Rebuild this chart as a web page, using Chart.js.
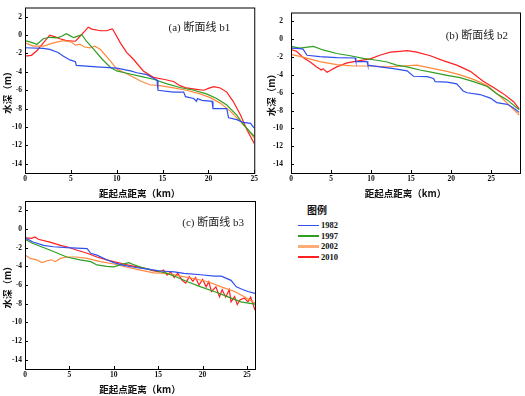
<!DOCTYPE html>
<html>
<head>
<meta charset="utf-8">
<script src="https://cdn.jsdelivr.net/npm/chart.js@4.4.1/dist/chart.umd.min.js"></script>
<style>
body{margin:0;background:#fff;width:525px;height:396px;position:relative;overflow:hidden}
canvas{position:absolute}
#legend{position:absolute;left:298px;top:202px;font-family:"Liberation Serif",serif;font-size:8.5px;font-weight:bold;color:#111}
#legend .ttl{font-family:"Noto Sans CJK SC",sans-serif;font-size:10px;margin-left:9px;margin-bottom:5px;height:13px}
#legend .row{height:10.6px;display:flex;align-items:center}
#legend .ln{display:inline-block;width:21px;margin-right:2px}
</style>
</head>
<body>
<canvas id="chartA" width="260" height="200" style="left:0;top:0"></canvas>
<canvas id="chartB" width="265" height="200" style="left:260px;top:0"></canvas>
<canvas id="chartC" width="260" height="206" style="left:0;top:190px"></canvas>
<div id="legend"></div>
<script>
// ===========================
// DATA
// ===========================

const years = ["1982","1997","2002","2010"];
const colors = ["#3050ee","#2f9e22","#ff8a3d","#ff1f1f"];
const yTicks = [-14,-12,-10,-8,-6,-4,-2,0,2];
const xTicks = [0,5,10,15,20,25];

// (a) 断面线 b1
const b1X1982 = [0,2,2.7,3.6,4.2,4.9,5.5,5.6,7.8,10,11.5,12.2,13.3,14,14.4,14.5,16.2,17.3,17.5,18.4,18.7,18.8,19.3,20.4,20.5,22,22.2,23.1,23.8,24.6,24.9,25];
const b1Y1982 = [-1.38,-1.45,-1.56,-1.9,-2.3,-2.7,-2.9,-3.3,-3.45,-3.6,-3.9,-4.1,-4.3,-4.7,-4.9,-6.0,-6.2,-6.2,-6.7,-6.9,-7.2,-6.9,-7.1,-7.2,-8.0,-8.0,-9.0,-9.2,-9.5,-9.6,-10.0,-10.1];
const b1X1997 = [0,0.7,1.3,2,2.7,3.5,4,4.5,4.9,5.3,5.6,6.2,6.7,7.5,8.4,9.3,10,11.1,12.6,14,15.5,16.9,18.4,19.8,20.9,22,23.1,23.8,24.6,25];
const b1Y1997 = [-0.6,-0.8,-1.0,-0.4,-0.24,-0.3,-0.13,0.15,-0.06,-0.28,-0.17,0.05,-0.67,-1.56,-2.6,-3.5,-3.9,-4.15,-4.5,-4.8,-5.3,-5.7,-6.0,-6.4,-6.9,-7.6,-8.7,-9.7,-10.6,-11.0];
const b1X2002 = [0,0.9,2,3.1,4.2,5.1,5.5,6,6.5,7.1,7.6,8.2,9.3,10,11.1,12.6,13.6,14.7,16.2,17.6,19.1,20.2,21.3,22.4,23.5,24.4,25];
const b1Y2002 = [-0.85,-1.2,-1.2,-0.85,-0.6,-0.78,-1.1,-1.0,-1.3,-1.4,-1.2,-1.55,-2.8,-3.7,-4.2,-5.0,-5.4,-5.5,-5.75,-6.0,-6.4,-6.8,-7.4,-8.3,-9.4,-10.4,-11.2];
const b1X2010 = [0,0.7,1.3,2,2.7,3.3,3.8,4.5,5.5,6,6.5,6.9,7.3,8.2,8.9,9.5,9.6,10.4,11.1,11.8,12.9,14,15.1,16.2,16.9,17.6,18.7,19.5,20,20.6,21.3,22,22.7,23.5,24.2,25];
const b1Y2010 = [-2.3,-2.2,-1.7,-0.85,0.0,-0.2,-0.4,-0.6,-0.67,-0.13,0.4,0.86,0.65,0.47,0.47,0.68,0.58,-0.85,-1.9,-2.6,-3.9,-4.6,-4.8,-5.05,-5.5,-5.75,-5.9,-6.0,-5.8,-5.6,-5.75,-6.2,-7.2,-8.7,-10.3,-11.8];

// (b) 断面线 b2
const b2X1982 = [0,1.1,1.5,2,3.6,5.7,8,8.1,9.5,9.6,11.1,12.8,14.5,15.3,17,17.8,18,19.5,20.7,21.1,21.5,22,23.6,24.9,25.7,27,27.8,28.5];
const b2Y1982 = [-1.0,-1.05,-1.1,-1.8,-1.95,-2.05,-2.1,-2.5,-2.5,-2.9,-3.1,-3.3,-3.55,-4.15,-4.2,-4.4,-4.75,-4.8,-5.0,-5.4,-5.8,-6.0,-6.2,-6.6,-7.1,-7.3,-7.7,-8.2];
const b2X1997 = [0,1.1,2.8,4,5.7,7.4,9,10.3,12,13.2,14.5,16.1,17.8,19.5,21.1,22.8,24.5,25.7,27,28.5];
const b2Y1997 = [-0.8,-1.0,-0.8,-1.2,-1.6,-1.85,-2.15,-2.3,-2.55,-2.9,-3.1,-3.45,-3.75,-4.05,-4.3,-4.75,-5.3,-6.1,-6.8,-7.9];
const b2X2002 = [0,1.5,3.6,5.7,7.8,9.9,12,14,15.7,17.8,19.5,21.1,22.8,24.5,26.1,27.4,28.5];
const b2Y2002 = [-1.7,-2.0,-2.5,-2.85,-3.0,-3.0,-3.1,-3.0,-2.9,-3.3,-3.6,-4.0,-4.5,-5.2,-6.4,-7.5,-8.5];
const b2X2010 = [0,0.7,1.5,2.4,3.2,3.8,4,4.5,4.9,5.7,7,8.6,9.9,11.1,12.4,13.6,14.5,15.7,17.4,19,20.7,22.4,24,25.3,26.5,27.8,28.5];
const b2Y2010 = [-1.15,-1.35,-2.05,-2.55,-3.1,-3.45,-3.3,-3.7,-3.5,-3.1,-2.65,-2.4,-2.2,-1.8,-1.45,-1.35,-1.27,-1.45,-1.85,-2.4,-2.9,-3.6,-4.7,-5.4,-6.1,-7.0,-7.8];

// (c) 断面线 b3
const b3X1982 = [0,0.9,2.1,3.2,4.7,7,7.4,8.1,9.2,10,11.1,12.3,13.8,15.3,16.8,17.9,19.8,21.3,22.1,23.2,23.8,24.3,25.1,25.9];
const b3Y1982 = [-0.95,-1.4,-1.75,-1.9,-2.0,-2.1,-2.6,-2.8,-3.3,-3.6,-3.9,-4.1,-4.3,-4.5,-4.6,-4.75,-4.9,-5.05,-5.05,-5.5,-6.2,-6.4,-6.7,-6.9];
const b3X1997 = [0,0.9,2.8,4.7,6.2,7.4,8.1,9.2,10,10.7,11.7,12.3,13.4,14.9,16,17.2,18.3,19.8,21.3,22.8,24.3,25.9];
const b3Y1997 = [-1.1,-1.55,-2.25,-3.0,-3.3,-3.5,-3.85,-4.0,-4.05,-3.85,-3.6,-3.85,-4.2,-4.5,-4.75,-5.2,-5.65,-6.2,-6.7,-7.25,-7.8,-8.05];
const b3X2002 = [0,0.6,1.3,1.9,2.5,3,3.4,4,4.7,5.8,7,8.5,10,11.5,13,14.5,16,17.5,19,20.6,22.1,23.6,24.7,25.9];
const b3Y2002 = [-2.8,-3.15,-3.3,-3.6,-3.4,-3.3,-3.5,-3.15,-3.0,-3.0,-3.15,-3.5,-3.75,-4.1,-4.4,-4.7,-4.75,-5.05,-5.3,-5.65,-6.2,-6.7,-7.25,-7.95];
const b3X2010 = [0,0.75,1.1,1.5,2.8,4,4.7,5.8,7,8.1,9.2,10,11.1,12.3,13.4,14.5,15.1,15.6,16,16.4,16.8,17.2,17.7,18.1,18.5,18.9,19.2,19.6,20,20.4,20.7,21,21.5,21.9,22.2,22.6,23,23.2,23.6,23.9,24.2,24.7,25.1,25.4,25.6,25.9];
const b3Y2010 = [-0.95,-1.0,-0.85,-1.1,-1.4,-1.75,-1.9,-2.25,-2.6,-3.0,-3.3,-3.5,-3.75,-4.0,-4.2,-4.5,-4.6,-4.4,-4.95,-4.6,-5.2,-4.75,-5.5,-5.8,-5.1,-5.6,-5.2,-6.0,-5.4,-6.2,-5.65,-6.7,-6.2,-7.25,-6.5,-7.3,-6.5,-7.8,-7.25,-8.1,-7.6,-7.4,-7.8,-7.3,-7.8,-8.7];

// ===========================
// HELPERS
// ===========================

function pts(xs, ys){
    return xs.map((x,i)=>({x:x, y:ys[i]}));
}

function makeSets(list){
    return list.map((s,i)=>({
        label: years[i],
        data: pts(s[0], s[1]),
        borderColor: colors[i],
        borderWidth: 1.2,
        pointRadius: 0,
        tension: 0,
        fill: false
    }));
}

// frame + inward tick marks + panel label
const framePlugin = {
    id: "frame",
    afterDraw(chart, args, opts){
        const {ctx, chartArea:a, scales} = chart;
        ctx.save();
        ctx.strokeStyle = "#000";
        ctx.lineWidth = 1;
        ctx.strokeRect(a.left+0.5, a.top+0.5, a.right-a.left, a.bottom-a.top);
        ctx.beginPath();
        xTicks.forEach(v=>{
            const px = Math.round(scales.x.getPixelForValue(v))+0.5;
            ctx.moveTo(px, a.bottom);
            ctx.lineTo(px, a.bottom-3);
        });
        yTicks.forEach(v=>{
            const py = Math.round(scales.y.getPixelForValue(v))+0.5;
            ctx.moveTo(a.left, py);
            ctx.lineTo(a.left+3, py);
        });
        ctx.stroke();
        ctx.fillStyle = "#222";
        ctx.font = "11px 'Liberation Serif', 'Noto Sans CJK SC', serif";
        ctx.textAlign = "right";
        ctx.textBaseline = "middle";
        ctx.fillText(opts.text, a.right-opts.dx, a.top+opts.dy);
        ctx.restore();
    }
};

function makePanel(id, series, xMax, axisW, pad, tickPad, titlePad, label){
    return new Chart(document.getElementById(id), {
        type: "line",
        data: { datasets: makeSets(series) },
        plugins: [framePlugin],
        options: {
            responsive: false,
            animation: false,
            layout: { padding: pad },
            plugins: {
                legend: { display: false },
                tooltip: { enabled: false },
                frame: label
            },
            scales: {
                x: {
                    type: "linear",
                    min: 0, max: xMax,
                    grid: { display: false, drawTicks: false },
                    border: { display: false },
                    afterBuildTicks: s=>{ s.ticks = xTicks.map(v=>({value:v})); },
                    afterFit: s=>{ s.height = 27; },
                    ticks: { padding: 2, maxRotation: 0, color: "#111",
                        font: { family: "Liberation Serif", size: 7.5, weight: "bold" } },
                    title: { display: true, text: "距起点距离（km）", color: "#111",
                        padding: { top: 0, bottom: 1 },
                        font: { family: "Noto Sans CJK SC", size: 9.5, weight: "bold" } }
                },
                y: {
                    min: -15, max: 3,
                    grid: { display: false, drawTicks: false },
                    border: { display: false },
                    afterBuildTicks: s=>{ s.ticks = yTicks.map(v=>({value:v})); },
                    afterFit: s=>{ s.width = axisW; },
                    ticks: { padding: tickPad, color: "#111",
                        font: { family: "Liberation Serif", size: 7.5, weight: "bold" } },
                    title: { display: true, text: "水深（m）", color: "#111",
                        padding: { top: titlePad, bottom: 0 },
                        font: { family: "Noto Sans CJK SC", size: 9.5, weight: "bold" } }
                }
            }
        }
    });
}

// ===========================
// PANELS
// ===========================

makePanel("chartA",
    [[b1X1982,b1Y1982],[b1X1997,b1Y1997],[b1X2002,b1Y2002],[b1X2010,b1Y2010]],
    25, 25, {left:0, top:5, right:5, bottom:0}, 3, 2,
    {text:"(a) 断面线 b1", dx:24, dy:21});

makePanel("chartB",
    [[b2X1982,b2Y1982],[b2X1997,b2Y1997],[b2X2002,b2Y2002],[b2X2010,b2Y2010]],
    28.6, 31, {left:0, top:5, right:5, bottom:0}, 8, 6,
    {text:"(b) 断面线 b2", dx:12, dy:24});

makePanel("chartC",
    [[b3X1982,b3Y1982],[b3X1997,b3Y1997],[b3X2002,b3Y2002],[b3X2010,b3Y2010]],
    25.9, 25, {left:0, top:11, right:5, bottom:0}, 3, 2,
    {text:"(c) 断面线 b3", dx:11, dy:22});

// ===========================
// LEGEND
// ===========================

const legend = document.getElementById("legend");
let html = '<div class="ttl">图例</div>';
years.forEach((y,i)=>{
    const h = i === 2 ? 3 : 1.5;
    html += `<div class="row"><span class="ln" style="height:${h}px;background:${i===2?'#ffab78':colors[i]}"></span>${y}</div>`;
});
legend.innerHTML = html;
</script>
</body>
</html>
